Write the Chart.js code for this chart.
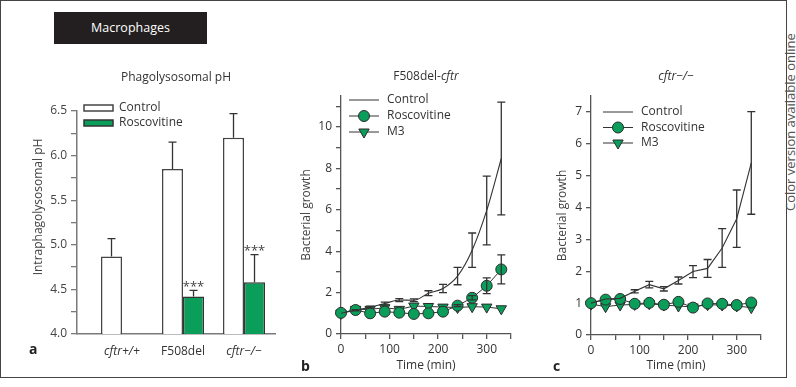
<!DOCTYPE html>
<html>
<head>
<meta charset="utf-8">
<script src="https://cdn.jsdelivr.net/npm/chart.js@4.4.1/dist/chart.umd.min.js"></script>
<style>
body { margin: 0; background: #fff; font-family: 'Open Sans', sans-serif; }
#page { position: relative; width: 796px; height: 387px; overflow: hidden; }
#frame { position: absolute; left: 0; top: 0; width: 785px; height: 376px; border: 1px solid #444; }
#tag { position: absolute; left: 54px; top: 12px; width: 153px; height: 32px; background: #231f20; color: #fff; font-size: 12.5px; line-height: 32px; text-align: center; }
#note { position: absolute; left: 784px; top: 211px; height: 13px; font-size: 13px; line-height: 13px; color: #555; white-space: nowrap; transform-origin: left top; transform: rotate(-90deg); }
.letter { position: absolute; font-size: 14px; font-weight: bold; color: #222; }
canvas { position: absolute; }
</style>
</head>
<body>
<div id="page">
  <div id="frame"></div>
  <div id="tag">Macrophages</div>
  <div id="note">Color version available online</div>
  <canvas id="chart-a" width="290" height="310" style="left:0;top:60px"></canvas>
  <canvas id="chart-b" width="240" height="320" style="left:290px;top:60px"></canvas>
  <canvas id="chart-c" width="250" height="320" style="left:520px;top:60px"></canvas>
  <div class="letter" style="left:29px;top:339px">a</div>
  <div class="letter" style="left:301px;top:356px">b</div>
  <div class="letter" style="left:553px;top:356px">c</div>
</div>
<script>
// panel a: phagolysosomal pH
let phCategories = ['cftr+/+', 'F508del', 'cftr\u2212/\u2212'];
let phItalic = [true, false, true];
let phControl = [4.87, 5.85, 6.20];
let phControlErr = [0.20, 0.30, 0.27];
let phRosco = [null, 4.42, 4.58];
let phRoscoErr = [0, 0.07, 0.31];
let phStars = ['', '***', '***'];

// panels b and c: bacterial growth over time
let timeMin = [0, 30, 60, 90, 120, 150, 180, 210, 240, 270, 300, 330];

let bControl = [1.00, 1.15, 1.30, 1.47, 1.64, 1.63, 1.97, 2.20, 2.80, 4.05, 5.97, 8.48];
let bControlErr = [0, 0.03, 0.05, 0.07, 0.07, 0.07, 0.12, 0.20, 0.42, 0.83, 1.66, 2.72];
let bRosco = [1.02, 1.16, 1.00, 1.08, 1.03, 0.97, 1.00, 1.08, 1.37, 1.75, 2.33, 3.12];
let bRoscoErr = [0, 0, 0, 0, 0, 0, 0, 0, 0.05, 0.10, 0.38, 0.70];
let bM3 = [1.00, 1.19, 1.19, 1.27, 1.19, 1.35, 1.33, 1.30, 1.28, 1.32, 1.30, 1.22];

let cControl = [1.00, 1.13, 1.15, 1.37, 1.58, 1.45, 1.71, 1.99, 2.09, 2.73, 3.65, 5.40];
let cControlErr = [0, 0, 0, 0.05, 0.10, 0.07, 0.11, 0.19, 0.28, 0.61, 0.90, 1.61];
let cRosco = [1.00, 1.11, 1.13, 0.98, 1.01, 0.95, 1.04, 0.86, 0.99, 0.98, 0.94, 1.02];
let cM3 = [0.97, 0.89, 0.94, 0.96, 0.98, 0.94, 0.91, 0.88, 0.95, 0.94, 0.91, 0.86];

const green = '#0b9e5b';
const ink = '#333';
const FONT = "'Open Sans', sans-serif";

Chart.defaults.font.family = FONT;
Chart.defaults.font.size = 12;
Chart.defaults.color = '#333';

// error bars, stars, titles, y titles and legends
const extras = {
    id: 'extras',
    afterDatasetsDraw(chart, args, opts) {
        const ctx = chart.ctx;
        const ys = chart.scales.y;
        const area = chart.chartArea;
        ctx.save();
        chart.data.datasets.forEach((ds, di) => {
            if (!ds.err) return;
            const meta = chart.getDatasetMeta(di);
            meta.data.forEach((el, i) => {
                const v = ds.data[i].y;
                const e = ds.err[i];
                if (v == null) return;
                const yTop = ys.getPixelForValue(v + e);
                const yBot = opts.upOnly ? ys.getPixelForValue(v) : ys.getPixelForValue(v - e);
                ctx.strokeStyle = ink;
                ctx.lineWidth = 1.3;
                if (e > 0) {
                    ctx.beginPath();
                    ctx.moveTo(el.x, yTop);
                    ctx.lineTo(el.x, yBot);
                    ctx.moveTo(el.x - 4, yTop);
                    ctx.lineTo(el.x + 4, yTop);
                    if (!opts.upOnly) {
                        ctx.moveTo(el.x - 4, yBot);
                        ctx.lineTo(el.x + 4, yBot);
                    }
                    ctx.stroke();
                }
                if (ds.stars && ds.stars[i]) {
                    ctx.fillStyle = '#444';
                    ctx.font = '13px ' + FONT;
                    ctx.textAlign = 'center';
                    ctx.textBaseline = 'middle';
                    ctx.fillText(ds.stars[i], el.x, yTop - 3);
                }
            });
        });

        // title with mixed italic parts
        if (opts.title) {
            const parts = opts.title;
            ctx.fillStyle = '#333';
            ctx.textBaseline = 'middle';
            ctx.textAlign = 'left';
            let widths = parts.map(p => {
                ctx.font = (p.italic ? 'italic ' : '') + '12px ' + FONT;
                return ctx.measureText(p.text).width;
            });
            let total = widths.reduce((a, b) => a + b, 0);
            let x = (area.left + area.right) / 2 - total / 2;
            parts.forEach((p, i) => {
                ctx.font = (p.italic ? 'italic ' : '') + '12px ' + FONT;
                ctx.fillText(p.text, x, opts.titleY);
                x += widths[i];
            });
        }

        // vertical axis title
        if (opts.yTitle) {
            const yt = opts.yTitle;
            ctx.save();
            ctx.translate(yt.x, yt.y != null ? yt.y : (area.top + area.bottom) / 2);
            ctx.rotate(-Math.PI / 2);
            ctx.fillStyle = '#444';
            ctx.font = '12px ' + FONT;
            ctx.textAlign = 'center';
            ctx.textBaseline = 'middle';
            ctx.fillText(yt.text, 0, 0);
            ctx.restore();
        }

        // legend
        if (opts.legend) {
            const lg = opts.legend;
            chart.data.datasets.forEach((ds, di) => {
                const y = area.top + lg.dy + di * lg.gap;
                const x0 = area.left + lg.dx;
                ctx.strokeStyle = ds.borderColor;
                if (lg.kind === 'box') {
                    ctx.fillStyle = ds.backgroundColor;
                    ctx.lineWidth = 1.5;
                    ctx.fillRect(x0, y - 3, 29, 6);
                    ctx.strokeRect(x0, y - 3, 29, 6);
                } else {
                    ctx.lineWidth = 1;
                    ctx.beginPath();
                    ctx.moveTo(x0, y);
                    ctx.lineTo(x0 + 30, y);
                    ctx.stroke();
                    if (ds.pointRadius > 0) {
                        ctx.fillStyle = ds.pointBackgroundColor;
                        ctx.strokeStyle = ds.pointBorderColor;
                        ctx.lineWidth = 1;
                        Chart.helpers.drawPoint(ctx, {
                            pointStyle: ds.pointStyle,
                            radius: ds.pointRadius,
                            rotation: ds.rotation || 0,
                            borderWidth: 1
                        }, x0 + 15, y);
                    }
                }
                ctx.fillStyle = '#333';
                ctx.font = '12px ' + FONT;
                ctx.textAlign = 'left';
                ctx.textBaseline = 'middle';
                ctx.fillText(ds.label, x0 + lg.textDx, y);
            });
        }
        ctx.restore();
    }
};

function tickGrid(color) {
    return { display: true, drawOnChartArea: false, drawTicks: true, tickLength: 5, color: color, lineWidth: 1.3 };
}

function barChart() {
    const ctx = document.getElementById('chart-a').getContext('2d');
    new Chart(ctx, {
        type: 'bar',
        data: {
            datasets: [{
                label: 'Control',
                data: phControl.map((v, i) => ({ x: i + 1, y: v })),
                err: phControlErr,
                backgroundColor: '#fff',
                borderColor: '#444',
                borderWidth: 1.5,
            }, {
                label: 'Roscovitine',
                data: phRosco.map((v, i) => ({ x: i + 1, y: v })),
                err: phRoscoErr,
                stars: phStars,
                backgroundColor: green,
                borderColor: '#333',
                borderWidth: 1.5,
            }]
        },
        options: {
            responsive: false,
            animation: false,
            devicePixelRatio: 1,
            categoryPercentage: 0.689,
            barPercentage: 1.0,
            layout: { padding: { top: 51, right: 15, left: 0, bottom: 0 } },
            plugins: {
                legend: { display: false },
                tooltip: { enabled: false },
                extras: {
                    upOnly: true,
                    title: [{ text: 'Phagolysosomal pH', italic: false }],
                    titleY: 18,
                    yTitle: { text: 'Intraphagolysosomal pH', x: 39, y: 147 },
                    legend: { kind: 'box', dx: 7, dy: -3, gap: 15, textDx: 35 }
                }
            },
            scales: {
                x: {
                    type: 'linear',
                    offset: false,
                    bounds: 'ticks',
                    min: 0.262,
                    max: 3.508,
                    afterBuildTicks: s => { s.ticks = phCategories.map((c, i) => ({ value: i + 1 })); },
                    afterFit: s => { s.height = 36; },
                    grid: { display: false, drawTicks: false, offset: false },
                    border: { display: true, color: '#7a7a7a', width: 1.5 },
                    ticks: {
                        padding: 10,
                        color: '#333',
                        callback: v => phCategories[Math.round(v) - 1],
                        font: c => ({ family: FONT, size: 12, style: c.tick && phItalic[Math.round(c.tick.value) - 1] ? 'italic' : 'normal' })
                    }
                },
                y: {
                    min: 4.0,
                    max: 6.5,
                    afterFit: s => { s.width = 77; },
                    grid: { display: true, drawOnChartArea: false, drawTicks: true, tickLength: 6, color: '#7a7a7a', lineWidth: 1.3 },
                    border: { display: true, color: '#7a7a7a', width: 1.5 },
                    ticks: {
                        stepSize: 0.25,
                        padding: 4,
                        color: '#444',
                        callback: v => Math.abs(v * 2 - Math.round(v * 2)) < 1e-6 ? v.toFixed(1) : ''
                    }
                }
            }
        },
        plugins: [extras]
    });
}

function growthChart(id, title, control, controlErr, rosco, roscoErr, m3, yMax, opt) {
    const ctx = document.getElementById(id).getContext('2d');
    const pts = arr => arr.map((v, i) => ({ x: timeMin[i], y: v }));
    new Chart(ctx, {
        type: 'line',
        data: {
            datasets: [{
                label: 'Control',
                data: pts(control),
                err: controlErr,
                borderColor: ink,
                borderWidth: 1.1,
                pointRadius: 0,
                tension: opt.tension,
                cubicInterpolationMode: opt.tension ? 'monotone' : 'default',
                clip: false,
            }, {
                label: 'Roscovitine',
                data: pts(rosco),
                err: roscoErr,
                borderColor: ink,
                borderWidth: 1,
                pointStyle: 'circle',
                pointRadius: 5.5,
                pointBackgroundColor: green,
                pointBorderColor: '#2b2b2b',
                pointBorderWidth: 1,
                clip: false,
            }, {
                label: 'M3',
                data: pts(m3),
                borderColor: ink,
                borderWidth: 1,
                pointStyle: 'triangle',
                rotation: 180,
                pointRadius: 6,
                pointBackgroundColor: green,
                pointBorderColor: '#2b2b2b',
                pointBorderWidth: 1,
                clip: false,
            }]
        },
        options: {
            responsive: false,
            animation: false,
            devicePixelRatio: 1,
            layout: { padding: { top: 36, right: opt.padRight, left: 0, bottom: 0 } },
            plugins: {
                legend: { display: false },
                tooltip: { enabled: false },
                extras: {
                    upOnly: false,
                    title: title,
                    titleY: 17,
                    yTitle: { text: 'Bacterial growth', x: opt.yTitleX, y: null },
                    legend: opt.legend
                }
            },
            scales: {
                x: {
                    type: 'linear',
                    min: 0,
                    max: 350,
                    afterFit: s => { s.height = opt.xHeight; },
                    grid: tickGrid('#555'),
                    border: { display: true, color: '#555', width: 1.3 },
                    ticks: {
                        stepSize: 50,
                        includeBounds: false,
                        padding: 3,
                        color: '#333',
                        autoSkip: false,
                        maxRotation: 0,
                        callback: v => v % 100 === 0 ? String(v) : ''
                    },
                    title: { display: true, text: 'Time (min)', color: '#333', padding: { top: 0, bottom: 7 } }
                },
                y: {
                    min: 0,
                    max: yMax,
                    afterFit: s => { s.width = opt.yWidth; },
                    grid: tickGrid('#555'),
                    border: { display: true, color: '#555', width: 1.3 },
                    ticks: {
                        stepSize: 1,
                        includeBounds: false,
                        padding: 4,
                        color: '#333',
                        autoSkip: false,
                        callback: v => v % opt.labelEvery === 0 ? String(v) : ''
                    }
                }
            }
        },
        plugins: [extras]
    });
}

barChart();
growthChart('chart-b',
    [{ text: 'F508del-', italic: false }, { text: 'cftr', italic: true }],
    bControl, bControlErr, bRosco, bRoscoErr, bM3, 11.5,
    { tension: 0.4, padRight: 19, xHeight: 46, yWidth: 51, yTitleX: 17, labelEvery: 2,
      legend: { kind: 'line', dx: 8, dy: 4, gap: 16, textDx: 38 } });
growthChart('chart-c',
    [{ text: 'cftr\u2212/\u2212', italic: true }],
    cControl, cControlErr, cRosco, null, cM3, 7.5,
    { tension: 0, padRight: 9, xHeight: 45, yWidth: 71, yTitleX: 43, labelEvery: 1,
      legend: { kind: 'line', dx: 12, dy: 16, gap: 15.5, textDx: 38 } });
</script>
</body>
</html>
